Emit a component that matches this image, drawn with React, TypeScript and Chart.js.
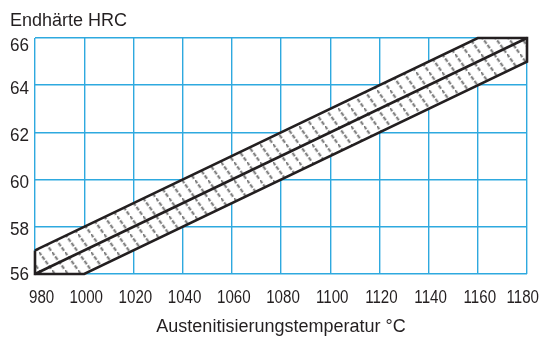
import React, { useEffect, useRef } from 'react';
import { Chart, registerables } from 'chart.js';

Chart.register(...registerables);

// Axis ticks
const tempTicks = [980, 1000, 1020, 1040, 1060, 1080, 1100, 1120, 1140, 1160, 1180];
const hrcTicks = [56, 58, 60, 62, 64, 66];

// Upper and lower limits of the hardness scatter band
const upperTemp = [980, 1160, 1180];
const upperHrc = [57, 66, 66];
const lowerTemp = [980, 1000, 1180];
const lowerHrc = [56, 56, 65];

// Mean line through the band
const meanTemp = [980, 1180];
const meanHrc = [56, 66];

const yTitle = 'Endhärte HRC';
const xTitle = 'Austenitisierungstemperatur °C';

const INK = '#231f20';
const GRID = '#2ea9df';
const FONT = '"Liberation Sans", Arial, sans-serif';

function bandPolygon() {
  const pts: { x: number; y: number }[] = [];
  upperTemp.forEach((t, i) => pts.push({ x: t, y: upperHrc[i] }));
  for (let i = lowerTemp.length - 1; i >= 0; i--) pts.push({ x: lowerTemp[i], y: lowerHrc[i] });
  pts.push({ x: upperTemp[0], y: upperHrc[0] });
  return pts;
}

// Opaque white tile with soft, broken diagonal hatch strokes
function makeHatch(): CanvasPattern | string {
  const W = 13;
  const H = 18;
  const c = document.createElement('canvas');
  c.width = W;
  c.height = H;
  const g = c.getContext('2d');
  if (!g) return '#fff';
  g.fillStyle = '#fff';
  g.fillRect(0, 0, W, H);
  const L = Math.hypot(W, H);
  const n = 4;
  g.setLineDash([L / n - 1.6, 1.6]);
  const passes: [string, number][] = [
    ['rgba(60,60,60,0.25)', 3.2],
    ['rgba(40,40,40,0.5)', 1.4],
  ];
  for (const [col, lw] of passes) {
    g.strokeStyle = col;
    g.lineWidth = lw;
    for (const k of [-1, 0, 1]) {
      g.beginPath();
      g.moveTo(k * W, k * H);
      g.lineTo((k + 1) * W, (k + 1) * H);
      g.stroke();
    }
  }
  return g.createPattern(c, 'repeat') || '#fff';
}

function drawSqueezed(ctx: CanvasRenderingContext2D, text: string, x: number, y: number, sx: number) {
  ctx.save();
  ctx.translate(x, y);
  ctx.scale(sx, 1);
  ctx.fillText(text, 0, 0);
  ctx.restore();
}

const textPlugin = {
  id: 'axisText',
  afterDraw(chart: any) {
    const { ctx, chartArea, scales, width } = chart;
    ctx.save();
    ctx.fillStyle = INK;
    ctx.font = `18px ${FONT}`;
    ctx.textBaseline = 'alphabetic';

    // Axis titles
    ctx.textAlign = 'left';
    ctx.fillText(yTitle, 10, 26);
    ctx.textAlign = 'center';
    ctx.fillText(xTitle, (chartArea.left + chartArea.right) / 2, 332);

    // Temperature tick labels (kept inside the canvas at both ends)
    const sx = 0.84;
    for (const v of tempTicks) {
      const s = String(v);
      const w = ctx.measureText(s).width * sx;
      let cx = scales.x.getPixelForValue(v) + 2;
      cx = Math.max(cx, chartArea.left - 6 + w / 2);
      cx = Math.min(cx, width - 2 - w / 2);
      drawSqueezed(ctx, s, cx, 303, sx);
    }

    // Hardness tick labels
    const sy = 0.95;
    ctx.textAlign = 'left';
    const capH = 13;
    for (const v of hrcTicks) {
      let cy = scales.y.getPixelForValue(v) + 2;
      cy = Math.max(cy, chartArea.top + capH / 2);
      cy = Math.min(cy, chartArea.bottom + 6 - capH / 2);
      drawSqueezed(ctx, String(v), 10, cy + capH / 2, sy);
    }
    ctx.restore();
  },
};

export default function App() {
  const ref = useRef<HTMLCanvasElement | null>(null);

  useEffect(() => {
    const canvas = ref.current;
    if (!canvas) return;
    const chart = new Chart(canvas, {
      type: 'line',
      data: {
        datasets: [
          {
            label: 'Mittelwert',
            data: meanTemp.map((t, i) => ({ x: t, y: meanHrc[i] })),
            fill: false,
            borderColor: INK,
            borderWidth: 2.6,
            pointRadius: 0,
            tension: 0,
            clip: 6,
            order: 0,
          } as any,
          {
            label: 'Streuband',
            data: bandPolygon(),
            fill: 'shape',
            backgroundColor: makeHatch(),
            borderColor: INK,
            borderWidth: 2.6,
            borderJoinStyle: 'miter',
            pointRadius: 0,
            tension: 0,
            clip: 6,
            order: 1,
          } as any,
        ],
      },
      options: {
        animation: false,
        responsive: false,
        devicePixelRatio: 1,
        events: [],
        layout: { padding: { left: 35, right: 14, top: 38, bottom: 64 } },
        plugins: {
          legend: { display: false },
          tooltip: { enabled: false },
        },
        scales: {
          x: {
            type: 'linear',
            min: 980,
            max: 1180,
            afterBuildTicks: (s: any) => {
              s.ticks = tempTicks.map((value) => ({ value }));
            },
            afterFit: (s: any) => {
              s.height = 0;
            },
            ticks: { display: false },
            grid: { color: GRID, lineWidth: 1.4, drawTicks: false },
            border: { display: false },
          },
          y: {
            type: 'linear',
            min: 56,
            max: 66,
            afterBuildTicks: (s: any) => {
              s.ticks = hrcTicks.map((value) => ({ value }));
            },
            afterFit: (s: any) => {
              s.width = 0;
            },
            ticks: { display: false },
            grid: { color: GRID, lineWidth: 1.4, drawTicks: false },
            border: { display: false },
          },
        },
      } as any,
      plugins: [textPlugin],
    });
    return () => chart.destroy();
  }, []);

  return (
    <div style={{ position: 'fixed', left: 0, top: 0, width: 541, height: 338, background: '#fff' }}>
      <canvas ref={ref} width={541} height={338} style={{ width: 541, height: 338, display: 'block' }} />
    </div>
  );
}
